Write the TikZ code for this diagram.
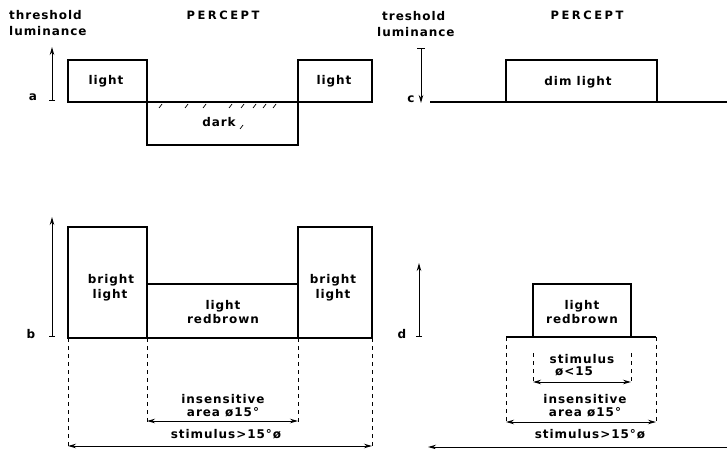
\documentclass[tikz,border=0pt]{standalone}
\usepackage{fontspec}
\setmainfont{DejaVu Sans}[LetterSpace=8,UprightFont={* Bold}]
\newfontfamily\capsfont{DejaVu Sans}[LetterSpace=22,UprightFont={* Bold}]
\usetikzlibrary{arrows.meta}
\begin{document}
\begin{tikzpicture}[x=1pt,y=-1pt,
  box/.style={line width=1.3pt},
  dimline/.style={line width=1pt},
  dashln/.style={line width=0.9pt, dash pattern=on 4pt off 4pt},
  lbl/.style={font=\fontsize{12}{14}\selectfont, inner sep=0pt, anchor=base},
  capslbl/.style={font=\capsfont\fontsize{11.5}{14}\selectfont, inner sep=0pt, anchor=base},
  hatch/.style={line width=0.7pt},
  tip/.tip={Stealth[length=8pt,width=4.5pt]}
]
\useasboundingbox (0,0) rectangle (727,449);

% ---------- headings ----------
\node[lbl, anchor=base west] (thr) at (9,20) {threshold};
\node[lbl, anchor=base west] (lum) at (9,36) {luminance};
\node[capslbl] (per1) at (223,20) {PERCEPT};
\node[lbl, anchor=base west] (thr2) at (382,21) {treshold};
\node[lbl, anchor=base west] (lum2) at (377,37) {luminance};
\node[capslbl] (per2) at (587,20) {PERCEPT};

% ---------- panel a ----------
\coordinate (aB) at (52,101);
\coordinate (aT) at (52,47);
\draw[dimline, {Bar[width=6pt,line width=1pt]}-tip] (aB) -- (aT);
\node[lbl] (la) at (33,101) {a};
\draw[box] (68,102) rectangle (147,60);
\draw[box] (298,102) rectangle (372,60);
\draw[box] (147,102) rectangle (298,145);
\foreach \hx in {162,188,206,232,244,256,266,276}
  \draw[hatch] (\hx,104) -- (\hx-3,108);
\draw[hatch] (243,125) -- (240,129);
\node[lbl] (al1) at (106,85) {light};
\node[lbl] (al2) at (334,85) {light};
\node[lbl] (adk) at (219,127) {dark};

% ---------- panel c ----------
\coordinate (cT) at (421,48);
\coordinate (cB) at (421,103);
\draw[dimline, {Bar[width=8pt,line width=1pt]}-tip] (cT) -- (cB);
\node[lbl] (lc) at (411,103) {c};
\draw[box] (430,102) -- (727,102);
\draw[box] (506,102) rectangle (657,60);
\node[lbl] (cdl) at (578,86) {dim light};

% ---------- panel b ----------
\coordinate (bB) at (52,337);
\coordinate (bT) at (52,217);
\draw[dimline, {Bar[width=6pt,line width=1pt]}-tip] (bB) -- (bT);
\node[lbl] (lb) at (31,338) {b};
\draw[box] (68,338) rectangle (147,227);
\draw[box] (298,338) rectangle (372,227);
\draw[box] (147,284) -- (298,284);
\draw[box] (147,338) -- (298,338);
\node[lbl] (bl1) at (111,283) {bright};
\node[lbl] (bl2) at (110,298) {light};
\node[lbl] (bm1) at (223,309) {light};
\node[lbl] (bm2) at (223,323) {redbrown};
\node[lbl] (br1) at (333,283) {bright};
\node[lbl] (br2) at (333,298) {light};
\coordinate (bd1a) at (68,338);  \coordinate (bd1b) at (68,447);
\coordinate (bd2a) at (147,338); \coordinate (bd2b) at (147,423);
\coordinate (bd3a) at (298,338); \coordinate (bd3b) at (298,423);
\coordinate (bd4a) at (372,338); \coordinate (bd4b) at (372,447);
\draw[dashln] (bd1a) -- (bd1b);
\draw[dashln] (bd2a) -- (bd2b);
\draw[dashln] (bd3a) -- (bd3b);
\draw[dashln] (bd4a) -- (bd4b);
\coordinate (bi1) at (147,421); \coordinate (bi2) at (298,421);
\draw[dimline, tip-tip] (bi1) -- (bi2);
\coordinate (bs1) at (68,446); \coordinate (bs2) at (372,446);
\draw[dimline, tip-tip] (bs1) -- (bs2);
\node[lbl] (bt1) at (223,403) {insensitive};
\node[lbl] (bt2) at (223,416) {area ø15°};
\node[lbl] (bt3) at (226,438) {stimulus>15°ø};

% ---------- panel d ----------
\coordinate (dB) at (419,337);
\coordinate (dT) at (419,263);
\draw[dimline, {Bar[width=6pt,line width=1pt]}-tip] (dB) -- (dT);
\node[lbl] (ld) at (402,338) {d};
\draw[box] (533,337) rectangle (631,284);
\draw[box] (506,337) -- (656,337);
\node[lbl] (dm1) at (582,309) {light};
\node[lbl] (dm2) at (582,323) {redbrown};
\coordinate (dd1a) at (506,337); \coordinate (dd1b) at (506,423);
\coordinate (dd2a) at (656,337); \coordinate (dd2b) at (656,423);
\coordinate (dd3a) at (533,353); \coordinate (dd3b) at (533,382);
\coordinate (dd4a) at (631,353); \coordinate (dd4b) at (631,382);
\draw[dashln] (dd1a) -- (dd1b);
\draw[dashln] (dd2a) -- (dd2b);
\draw[dashln] (dd3a) -- (dd3b);
\draw[dashln] (dd4a) -- (dd4b);
\draw[dimline, tip-tip] (dd3b) -- (dd4b);
\coordinate (di1) at (506,422); \coordinate (di2) at (656,422);
\draw[dimline, tip-tip] (di1) -- (di2);
\coordinate (ds1) at (428,447); \coordinate (ds2) at (727,447);
\draw[dimline, tip-] (ds1) -- (ds2);
\node[lbl] (dt1) at (582,363) {stimulus};
\node[lbl] (dt2) at (574,375) {ø<15};
\node[lbl] (dt3) at (585,403) {insensitive};
\node[lbl] (dt4) at (585,416) {area ø15°};
\node[lbl] (dt5) at (590,438) {stimulus>15°ø};
\end{tikzpicture}
\end{document}
